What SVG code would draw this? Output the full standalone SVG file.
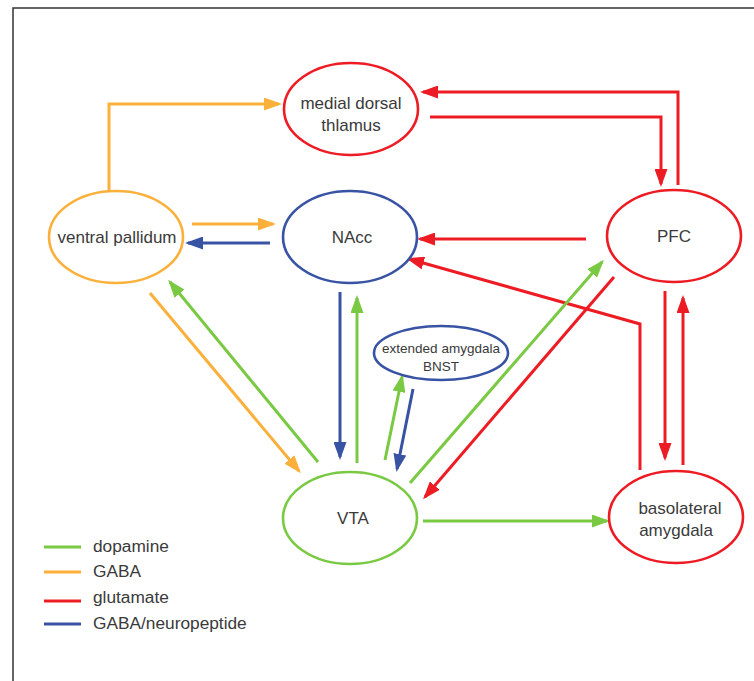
<svg xmlns="http://www.w3.org/2000/svg" width="754" height="681" viewBox="0 0 754 681">
<style>
.n{fill:#fff;stroke-width:2.6}
.t{font-family:"Liberation Sans",Arial,sans-serif;font-size:17px;fill:#3a3a3a;text-anchor:middle}
.s{font-family:"Liberation Sans",Arial,sans-serif;font-size:13.5px;fill:#3a3a3a;text-anchor:middle}
.l{font-family:"Liberation Sans",Arial,sans-serif;font-size:17.3px;fill:#3a3a3a}
.c{fill:none;stroke-width:3}
.g{stroke:#7ac943}.o{stroke:#fbb03b}.r{stroke:#ed1c24}.b{stroke:#3853a4}
</style>
<defs>
<marker id="ag" viewBox="0 0 18 13" refX="15" refY="6.5" markerWidth="18" markerHeight="13" markerUnits="userSpaceOnUse" orient="auto"><path d="M0,0 L18,6.5 L0,13 z" fill="#7ac943"/></marker>
<marker id="ao" viewBox="0 0 18 13" refX="15" refY="6.5" markerWidth="18" markerHeight="13" markerUnits="userSpaceOnUse" orient="auto"><path d="M0,0 L18,6.5 L0,13 z" fill="#fbb03b"/></marker>
<marker id="ar" viewBox="0 0 18 13" refX="15" refY="6.5" markerWidth="18" markerHeight="13" markerUnits="userSpaceOnUse" orient="auto"><path d="M0,0 L18,6.5 L0,13 z" fill="#ed1c24"/></marker>
<marker id="ab" viewBox="0 0 18 13" refX="15" refY="6.5" markerWidth="18" markerHeight="13" markerUnits="userSpaceOnUse" orient="auto"><path d="M0,0 L18,6.5 L0,13 z" fill="#3853a4"/></marker>
</defs>
<rect width="754" height="681" fill="#fff"/>
<path d="M13,681 V8 H754" fill="none" stroke="#333" stroke-width="1.5"/>

<g id="connectors">
<path class="c o" d="M109,192 V104 H279" marker-end="url(#ao)"/>
<path class="c r" d="M678,185 V92 H423" marker-end="url(#ar)"/>
<path class="c r" d="M430,117 H661 V184" marker-end="url(#ar)"/>
<path class="c o" d="M192,224 H273" marker-end="url(#ao)"/>
<path class="c b" d="M270,243 H188" marker-end="url(#ab)"/>
<path class="c r" d="M586,239 H420" marker-end="url(#ar)"/>
<path class="c r" d="M640,470 V324 L409,259" marker-end="url(#ar)"/>
<path class="c r" d="M665,291 V458" marker-end="url(#ar)"/>
<path class="c r" d="M683,465 V298" marker-end="url(#ar)"/>
<path class="c r" d="M614,277 L425,497" marker-end="url(#ar)"/>
<path class="c g" d="M410,483 L602,262" marker-end="url(#ag)"/>
<path class="c g" d="M423,521 H607" marker-end="url(#ag)"/>
<path class="c g" d="M385,460 L402,377" marker-end="url(#ag)"/>
<path class="c b" d="M413,389 L397,469" marker-end="url(#ab)"/>
<path class="c b" d="M340,292 V457" marker-end="url(#ab)"/>
<path class="c g" d="M357,463 V298" marker-end="url(#ag)"/>
<path class="c o" d="M150,293 L299,471" marker-end="url(#ao)"/>
<path class="c g" d="M318,462 L170,282" marker-end="url(#ag)"/>
</g>

<g id="mdt"><ellipse class="n r" cx="351" cy="109" rx="67" ry="46"/><text class="t" x="351" y="109">medial dorsal</text><text class="t" x="351" y="131">thlamus</text></g>
<g id="vp"><ellipse class="n o" cx="116" cy="237" rx="67" ry="46"/><text class="t" x="117" y="243">ventral pallidum</text></g>
<g id="nacc"><ellipse class="n b" cx="350" cy="237" rx="67" ry="46"/><text class="t" x="352" y="243">NAcc</text></g>
<g id="pfc"><ellipse class="n r" cx="674" cy="236" rx="67" ry="46"/><text class="t" x="674" y="242">PFC</text></g>
<g id="bnst"><ellipse class="n b" cx="441" cy="353" rx="67" ry="27"/><text class="s" x="441" y="353">extended amygdala</text><text class="s" x="441" y="371">BNST</text></g>
<g id="vta"><ellipse class="n g" cx="350" cy="518" rx="67" ry="46"/><text class="t" x="353" y="524">VTA</text></g>
<g id="bla"><ellipse class="n r" cx="676" cy="517" rx="67" ry="46"/><text class="t" x="680" y="514">basolateral</text><text class="t" x="676" y="536">amygdala</text></g>

<g id="legend">
<line class="c g" x1="44" y1="547" x2="81" y2="547"/>
<line class="c o" x1="44" y1="572" x2="81" y2="572"/>
<line class="c r" x1="44" y1="601" x2="81" y2="601"/>
<line class="c b" x1="44" y1="624" x2="81" y2="624"/>
<text class="l" x="93" y="552">dopamine</text>
<text class="l" x="93" y="577">GABA</text>
<text class="l" x="93" y="603">glutamate</text>
<text class="l" x="93" y="629">GABA/neuropeptide</text>
</g>
</svg>
